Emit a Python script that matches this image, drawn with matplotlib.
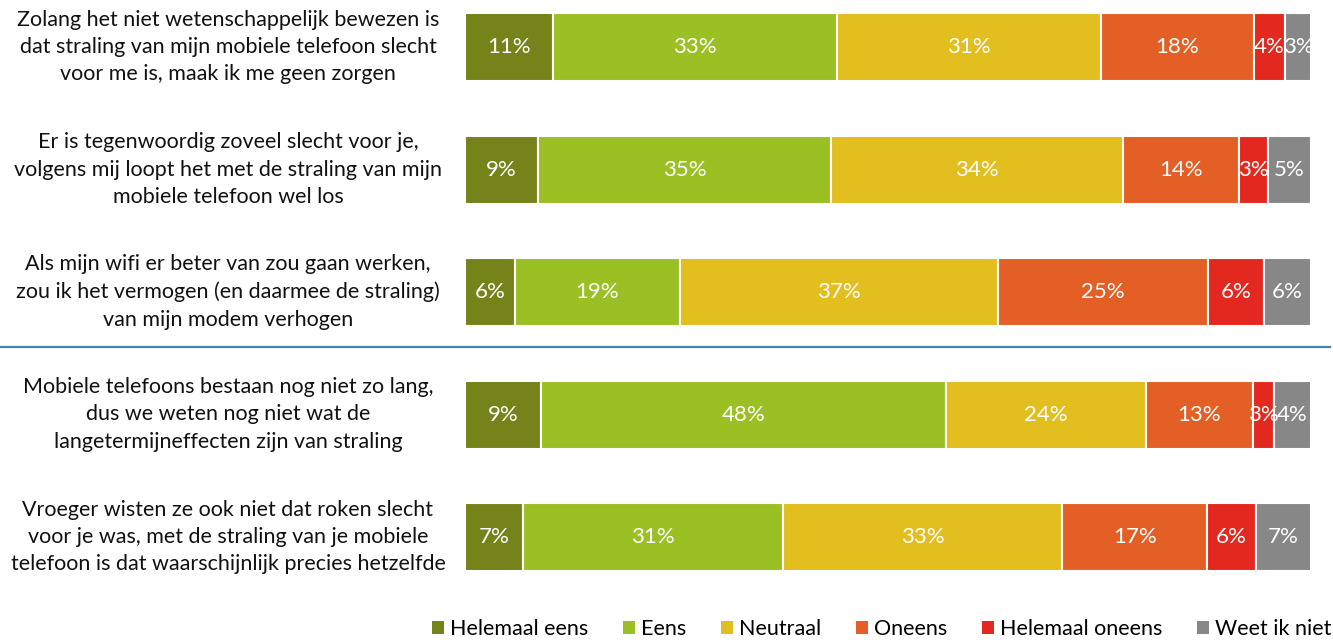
import matplotlib.pyplot as plt
from matplotlib.lines import Line2D
from matplotlib.patches import Patch

plt.rcParams['font.family'] = ['Lato', 'DejaVu Sans']

statements = [
    "Zolang het niet wetenschappelijk bewezen is\ndat straling van mijn mobiele telefoon slecht\nvoor me is, maak ik me geen zorgen",
    "Er is tegenwoordig zoveel slecht voor je,\nvolgens mij loopt het met de straling van mijn\nmobiele telefoon wel los",
    "Als mijn wifi er beter van zou gaan werken,\nzou ik het vermogen (en daarmee de straling)\nvan mijn modem verhogen",
    "Mobiele telefoons bestaan nog niet zo lang,\ndus we weten nog niet wat de\nlangetermijneffecten zijn van straling",
    "Vroeger wisten ze ook niet dat roken slecht\nvoor je was, met de straling van je mobiele\ntelefoon is dat waarschijnlijk precies hetzelfde",
]
categories = ["Helemaal eens", "Eens", "Neutraal", "Oneens", "Helemaal oneens", "Weet ik niet"]
colors = ["#76821a", "#9bc023", "#e2be1e", "#e35f26", "#e3281f", "#878787"]

# shares per statement (as drawn) and the printed labels
helemaal_eens = [10.4, 8.6, 5.9, 9.0, 6.9]
eens = [33.7, 34.6, 19.5, 47.9, 30.7]
neutraal = [31.2, 34.5, 37.6, 23.6, 33.0]
oneens = [18.1, 13.7, 24.8, 12.6, 17.1]
helemaal_oneens = [3.7, 3.4, 6.6, 2.5, 5.8]
weet_niet = [3.1, 5.1, 5.6, 4.4, 6.5]
series = [helemaal_eens, eens, neutraal, oneens, helemaal_oneens, weet_niet]

labels = [
    [11, 9, 6, 9, 7],
    [33, 35, 19, 48, 31],
    [31, 34, 37, 24, 33],
    [18, 14, 25, 13, 17],
    [4, 3, 6, 3, 6],
    [3, 5, 6, 4, 7],
]

W, H = 1333, 644
fig = plt.figure(figsize=(W / 100, H / 100), dpi=100)
ax = fig.add_axes([465 / W, 1 - 586 / H, (1311 - 465) / W, 586 / H])

n = len(statements)
left = [0.0] * n
for vals, labs, col, name in zip(series, labels, colors, categories):
    tot = [sum(s[i] for s in series) for i in range(n)]
    widths = [vals[i] / tot[i] * 100 for i in range(n)]
    ax.barh(range(n), widths, left=left, height=0.555, color=col,
            edgecolor="white", linewidth=1.5, label=name)
    for i in range(n):
        ax.text(left[i] + widths[i] / 2, i, f"{labs[i]}%", ha="center", va="center",
                color="white", fontsize=16)
    left = [left[i] + widths[i] for i in range(n)]

ax.set_xlim(0, 100)
ax.set_ylim(4.4, -0.384)
ax.axis("off")

for i, s in enumerate(statements):
    y = 1 - (47 + i * 122.5) / H
    fig.text(228 / W, y, s, ha="center", va="center", multialignment="center",
             fontsize=15.5, color="#111111", linespacing=1.45)

ysep = 1 - 347 / H
fig.add_artist(Line2D([0, 1330 / W], [ysep, ysep], color="#4f80a8", linewidth=1.6))

handles = [Patch(facecolor=c) for c in colors]
fig.legend(handles, categories, loc="center", bbox_to_anchor=(882 / W, 1 - 629 / H),
           ncol=6, frameon=False, fontsize=15.5, handlelength=0.55, handleheight=0.55,
           handletextpad=0.3, columnspacing=1.6)

fig.savefig("out.png", dpi=100)
